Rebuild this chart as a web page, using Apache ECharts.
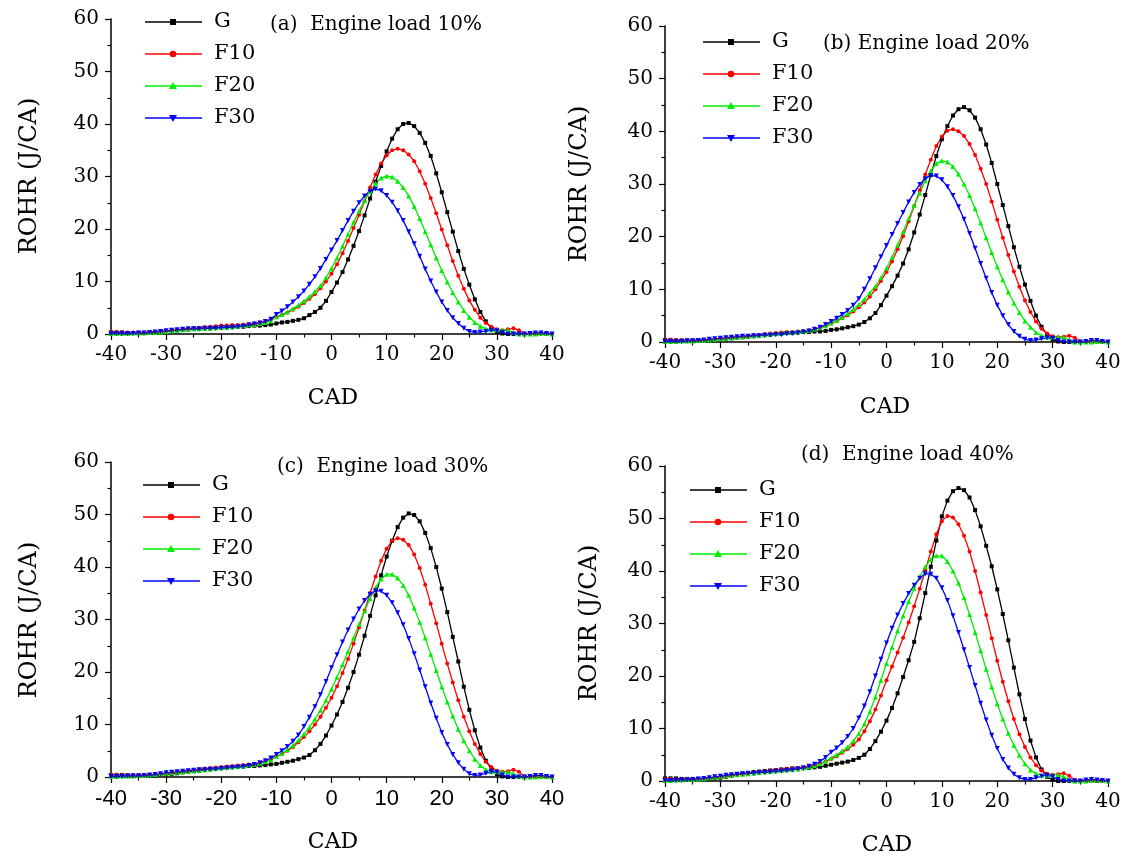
<!DOCTYPE html>
<html><head><meta charset="utf-8">
<script src="https://cdn.jsdelivr.net/npm/echarts@6/dist/echarts.min.js"></script>
<style>html,body{margin:0;padding:0;background:#fff}#c{width:1126px;height:858px}</style>
</head><body><div id="c"></div>
<script>
const CAD = [-40,-39,-38,-37,-36,-35,-34,-33,-32,-31,-30,-29,-28,-27,-26,-25,-24,-23,-22,-21,-20,-19,-18,-17,-16,-15,-14,-13,-12,-11,-10,-9,-8,-7,-6,-5,-4,-3,-2,-1,0,1,2,3,4,5,6,7,8,9,10,11,12,13,14,15,16,17,18,19,20,21,22,23,24,25,26,27,28,29,30,31,32,33,34,35,36,37,38,39,40];
const seriesNames = ['G','F10','F20','F30'];
const panelTitles = ['(a)  Engine load 10%','(b) Engine load 20%','(c)  Engine load 30%','(d)  Engine load 40%'];
const yTicks = [0,10,20,30,40,50,60];
const xTicks = [-40,-30,-20,-10,0,10,20,30,40];

// Panel (a) load 10%
const G_a = [0.3,0.3,0.3,0.2,0.2,0.2,0.2,0.3,0.3,0.4, 0.5,0.6,0.7,0.8,0.9,1.0,1.0,1.1,1.1,1.2, 1.2,1.3,1.3,1.4,1.4,1.5,1.6,1.6,1.7,1.8, 2.0,2.2,2.3,2.5,2.7,3.0,3.6,4.2,5.0,6.3, 8.0,9.8,11.8,14.2,16.8,19.6,22.6,25.8,29.0,32.0, 34.8,37.2,39.0,40.0,40.2,39.6,38.3,36.4,33.9,30.6, 27.0,23.2,19.5,15.8,12.4,9.4,6.6,4.2,2.4,1.1, 0.4,0.1,0,0,0,0,0,0,0,0,0];
const F10_a = [0.4,0.4,0.3,0.3,0.3,0.3,0.3,0.4,0.4,0.5, 0.6,0.7,0.8,0.9,1.0,1.1,1.2,1.3,1.4,1.5, 1.6,1.6,1.7,1.7,1.8,1.9,2.0,2.2,2.4,2.8, 3.2,3.6,4.1,4.6,5.2,5.9,6.7,7.6,8.7,10.0, 11.5,13.3,15.4,17.7,20.2,22.7,25.3,27.9,30.4,32.5, 34.0,35.0,35.3,35.0,34.2,32.9,31.0,28.6,25.9,23.0, 19.9,16.9,13.9,11.1,8.6,6.4,4.6,3.1,2.1,1.4, 0.9,0.7,0.9,1.1,0.7,0.1,0,0,0,0,0];
const F20_a = [0.1,0.1,0.1,0.1,0.2,0.2,0.2,0.3,0.3,0.4, 0.5,0.6,0.7,0.8,0.9,1.0,1.0,1.1,1.1,1.2, 1.3,1.3,1.4,1.5,1.6,1.7,1.8,2.0,2.2,2.5, 3.3,3.7,4.2,4.8,5.5,6.3,7.1,8.1,9.2,10.7, 12.5,14.5,16.7,19.0,21.3,23.4,25.4,27.2,28.7,29.7, 30.1,29.9,29.1,27.9,26.3,24.3,22.0,19.5,17.0,14.5, 12.1,9.9,7.9,6.1,4.5,3.2,2.2,1.5,1.0,0.8, 0.8,0.8,0.7,0.3,0,0,0,0,0.1,0.1,0];
const F30_a = [0.1,0.1,0.1,0.1,0.1,0.2,0.2,0.3,0.4,0.5, 0.6,0.7,0.8,0.9,1.0,1.0,1.0,1.1,1.1,1.1, 1.2,1.2,1.3,1.4,1.5,1.7,1.9,2.1,2.4,2.8, 3.7,4.4,5.2,6.1,7.1,8.2,9.5,10.9,12.5,14.2, 16.0,17.8,19.7,21.6,23.4,25.0,26.3,27.2,27.6,27.3, 26.4,25.1,23.5,21.6,19.5,17.2,14.8,12.4,10.1,8.0, 6.1,4.5,3.1,2.0,1.1,0.5,0.3,0.4,0.5,0.7, 0.6,0.3,0,0,0,0,0.1,0.2,0.2,0.1,0];

// Panel (b) load 20%
const G_b = [0.4,0.4,0.3,0.3,0.3,0.3,0.3,0.3,0.3,0.4, 0.5,0.6,0.7,0.8,0.9,1.0,1.1,1.2,1.3,1.4, 1.5,1.6,1.7,1.7,1.8,1.9,1.9,2.0,2.0,2.1, 2.3,2.4,2.6,2.8,3.0,3.3,3.8,4.5,5.5,7.0, 8.8,10.6,12.6,14.9,17.6,20.8,24.2,27.9,31.7,35.3, 38.5,41.0,43.0,44.2,44.6,44.0,42.6,40.4,37.5,34.0, 30.0,26.0,22.0,18.0,14.3,10.9,7.8,5.0,2.9,1.4, 0.5,0.1,0,0,0,0,0,0,0,0,0];
const F10_b = [0.4,0.4,0.4,0.3,0.3,0.3,0.3,0.4,0.4,0.5, 0.6,0.7,0.8,0.9,1.0,1.1,1.3,1.4,1.5,1.6, 1.7,1.8,1.9,1.9,2.0,2.1,2.2,2.4,2.7,3.0, 3.5,4.0,4.5,5.1,5.8,6.6,7.5,8.6,10.0,11.6, 13.3,15.3,17.6,20.1,22.9,25.8,28.8,31.8,34.6,37.2, 39.0,40.1,40.4,40.0,39.1,37.6,35.5,32.9,30.0,26.7, 23.2,19.8,16.5,13.4,10.5,7.9,5.7,3.9,2.5,1.6, 1.1,0.9,1.0,1.2,0.8,0.1,0,0,0,0,0];
const F20_b = [0.1,0.1,0.1,0.2,0.2,0.2,0.3,0.3,0.4,0.5, 0.6,0.7,0.8,0.9,1.0,1.1,1.2,1.3,1.4,1.5, 1.6,1.7,1.8,1.9,2.0,2.1,2.2,2.4,2.7,3.1, 3.6,4.1,4.7,5.4,6.2,7.1,8.1,9.3,10.6,12.2, 14.0,16.1,18.4,20.9,23.4,25.9,28.3,30.6,32.5,33.9, 34.4,34.2,33.3,31.9,30.0,27.8,25.3,22.6,19.8,17.0, 14.3,11.8,9.5,7.4,5.6,4.0,2.8,1.8,1.2,0.9, 0.9,1.0,0.9,0.4,0,0,0,0,0.1,0.1,0];
const F30_b = [0.1,0.1,0.1,0.1,0.2,0.2,0.3,0.4,0.5,0.6, 0.7,0.8,0.9,1.0,1.1,1.1,1.2,1.2,1.3,1.3, 1.4,1.4,1.5,1.6,1.7,1.9,2.1,2.4,2.8,3.3, 3.9,4.5,5.2,6.0,7.0,8.2,10.0,12.0,14.1,16.2, 18.3,20.4,22.5,24.6,26.6,28.4,29.9,31.0,31.6,31.5, 30.8,29.5,27.8,25.7,23.3,20.6,17.8,14.9,12.1,9.4, 7.0,5.0,3.3,2.0,1.1,0.5,0.3,0.4,0.6,0.8, 0.7,0.3,0,0,0,0,0.1,0.3,0.3,0.1,0];

// Panel (c) load 30%
const G_c = [0.4,0.4,0.4,0.3,0.3,0.3,0.3,0.3,0.3,0.4, 0.5,0.6,0.7,0.9,1.0,1.1,1.2,1.4,1.5,1.6, 1.7,1.8,1.9,2.0,2.0,2.1,2.1,2.2,2.3,2.4, 2.5,2.7,2.9,3.1,3.4,3.7,4.2,5.1,6.3,7.9, 9.8,11.9,14.3,17.0,20.0,23.3,26.9,30.7,34.6,38.4, 42.0,45.0,47.6,49.4,50.2,49.9,48.7,46.5,43.6,40.0, 35.9,31.4,26.7,22.0,17.2,12.8,8.9,5.6,3.1,1.5, 0.5,0.1,0,0,0,0,0,0,0,0,0];
const F10_c = [0.4,0.4,0.4,0.3,0.3,0.3,0.3,0.4,0.4,0.5, 0.6,0.7,0.9,1.0,1.2,1.3,1.5,1.6,1.7,1.8, 1.9,2.0,2.1,2.2,2.3,2.4,2.5,2.7,3.0,3.4, 3.9,4.4,5.0,5.7,6.6,7.6,8.7,10.0,11.5,13.2, 15.1,17.3,19.8,22.5,25.4,28.5,31.7,35.0,38.2,41.2, 43.5,45.0,45.5,45.2,44.2,42.4,39.8,36.6,33.0,29.3, 25.4,21.6,18.0,14.6,11.5,8.7,6.3,4.4,2.9,1.9, 1.2,1.0,1.1,1.4,1.0,0.1,0,0,0,0,0];
const F20_c = [0.1,0.1,0.2,0.2,0.2,0.3,0.3,0.4,0.5,0.6, 0.7,0.8,0.9,1.0,1.1,1.2,1.3,1.4,1.5,1.6, 1.7,1.8,1.9,2.0,2.1,2.3,2.4,2.6,2.9,3.3, 3.9,4.5,5.2,6.0,7.0,8.2,9.5,11.0,12.7,14.6, 16.7,19.0,21.4,23.9,26.5,29.1,31.6,34.0,36.1,37.7, 38.6,38.6,37.9,36.5,34.6,32.2,29.5,26.5,23.4,20.3, 17.2,14.3,11.6,9.1,6.9,5.0,3.4,2.2,1.4,1.0, 1.0,1.0,1.0,0.6,0.1,0,0,0,0.1,0.1,0];
const F30_c = [0.1,0.1,0.1,0.2,0.2,0.2,0.3,0.4,0.5,0.6, 0.8,0.9,1.0,1.1,1.2,1.3,1.4,1.4,1.5,1.5, 1.6,1.7,1.8,1.9,2.0,2.2,2.4,2.7,3.1,3.6, 4.3,5.0,5.8,6.8,8.0,9.6,11.4,13.4,15.7,18.2, 20.8,23.3,25.7,28.0,30.1,32.0,33.6,34.8,35.5,35.4, 34.6,33.2,31.3,29.0,26.4,23.5,20.4,17.2,14.1,11.2, 8.5,6.2,4.3,2.7,1.5,0.6,0.3,0.4,0.7,1.0, 0.9,0.4,0,0,0,0,0.1,0.3,0.3,0.1,0];

// Panel (d) load 40%
const G_d = [0.5,0.5,0.5,0.4,0.4,0.4,0.4,0.4,0.4,0.5, 0.6,0.8,1.0,1.2,1.4,1.5,1.7,1.8,1.9,2.0, 2.1,2.2,2.3,2.4,2.4,2.5,2.5,2.6,2.7,2.9, 3.1,3.3,3.5,3.7,4.0,4.4,5.0,6.1,7.6,9.4, 11.5,13.9,16.7,19.8,23.0,26.5,31.0,35.8,40.8,45.8, 50.4,53.4,55.2,55.8,55.4,54.0,51.6,48.5,44.8,40.9, 36.5,31.8,26.8,21.6,16.5,11.8,7.7,4.5,2.2,0.8, 0.2,0,0,0,0,0,0,0,0,0,0];
const F10_d = [0.4,0.4,0.3,0.3,0.3,0.4,0.4,0.5,0.5,0.6, 0.7,0.8,1.0,1.1,1.3,1.4,1.6,1.7,1.8,2.0, 2.1,2.2,2.3,2.4,2.5,2.6,2.8,3.0,3.3,3.7, 4.2,4.7,5.4,6.1,6.9,7.9,9.5,11.4,13.6,16.3, 19.2,21.8,24.5,27.3,30.2,33.3,36.6,40.1,43.7,47.0, 49.5,50.5,50.2,48.9,46.7,43.7,40.0,35.9,31.6,27.2, 22.9,18.9,15.2,11.8,8.9,6.5,4.5,3.0,2.0,1.4, 1.2,1.3,1.5,1.0,0.2,0,0,0,0,0,0];
const F20_d = [0.1,0.1,0.2,0.2,0.3,0.3,0.4,0.5,0.6,0.7, 0.8,1.0,1.1,1.2,1.3,1.4,1.5,1.6,1.7,1.8, 1.9,2.0,2.1,2.2,2.3,2.5,2.7,2.9,3.3,3.8, 4.4,5.0,5.7,6.5,7.6,9.0,10.9,13.2,16.0,19.2, 22.4,25.5,28.6,31.5,34.2,36.7,38.9,40.8,42.2,42.9, 42.9,41.8,40.0,37.7,34.9,31.7,28.3,24.8,21.3,17.9, 14.7,11.8,9.1,6.8,4.9,3.3,2.1,1.4,1.1,1.1, 1.2,1.2,0.8,0.2,0,0,0,0.1,0.2,0.1,0];
const F30_d = [0.1,0.1,0.1,0.2,0.2,0.3,0.4,0.5,0.6,0.8, 0.9,1.1,1.2,1.3,1.4,1.5,1.5,1.6,1.6,1.7, 1.8,1.9,2.0,2.1,2.3,2.5,2.8,3.2,3.7,4.5, 5.5,6.3,7.3,8.5,10.0,12.0,14.3,17.0,20.0,23.2, 26.3,29.1,31.6,33.8,35.7,37.3,38.6,39.5,39.4,38.6, 36.8,34.4,31.5,28.3,25.0,21.6,18.2,14.8,11.6,8.7, 6.2,4.1,2.5,1.3,0.6,0.3,0.3,0.6,0.9,1.1, 0.8,0.3,0,0,0,0,0.2,0.3,0.2,0.1,0];

const panels = [
  [G_a, F10_a, F20_a, F30_a],
  [G_b, F10_b, F20_b, F30_b],
  [G_c, F10_c, F20_c, F30_c],
  [G_d, F10_d, F20_d, F30_d]
];

const SERIF = '"DejaVu Serif","Liberation Serif",serif';
const SANS = '"Liberation Sans",Arial,sans-serif';
const colors = ['#000000','#ff0000','#00ee00','#0000ff'];
const symbols = ['rect','circle','triangle','triangle'];
const rotates = [0,0,0,180];
const symSizes = [4,4,5,5];

const grids = [
  {left:111, top:19, width:441, height:315},
  {left:665, top:26, width:443, height:316},
  {left:111, top:462, width:441, height:315},
  {left:665, top:466, width:443, height:315}
];
const xLabelFont = [SERIF, SERIF, SANS, SERIF];
const xLabelSize = [20, 20, 22, 20];
const legendPos = [
  {left:145, top:12},
  {left:703, top:32},
  {left:143, top:475},
  {left:690, top:480}
];
const titlePos = [
  {left:265, top:10},
  {left:818, top:29},
  {left:272, top:452},
  {left:796, top:440}
];
const yNamePos = [[30,176],[580,184],[30,620],[590,623]];
const xNamePos = [[333,398],[885,407],[333,842],[887,845]];

const xAxis = [], yAxis = [], series = [], title = [], graphic = [];
grids.forEach((g, i) => {
  xAxis.push({
    type:'value', gridIndex:i, min:-40, max:40, interval:10,
    axisLine:{onZero:false, lineStyle:{color:'#000', width:1.5}},
    axisTick:{show:true, inside:false, length:6, lineStyle:{color:'#000', width:1.2}},
    minorTick:{show:true, splitNumber:2, length:3.5, lineStyle:{color:'#000', width:1.2}},
    splitLine:{show:false},
    axisLabel:{color:'#000', fontFamily:xLabelFont[i], fontSize:xLabelSize[i], margin:11,
      formatter: v => xTicks.includes(v) ? String(v) : ''}
  });
  yAxis.push({
    type:'value', gridIndex:i, min:0, max:60, interval:10,
    axisLine:{show:true, onZero:false, lineStyle:{color:'#000', width:1.5}},
    axisTick:{show:true, inside:false, length:6, lineStyle:{color:'#000', width:1.2}},
    minorTick:{show:true, splitNumber:2, length:3.5, lineStyle:{color:'#000', width:1.2}},
    splitLine:{show:false},
    axisLabel:{color:'#000', fontFamily:SERIF, fontSize:20, margin:12,
      formatter: v => yTicks.includes(v) ? String(v) : ''}
  });
  panels[i].forEach((arr, k) => {
    series.push({
      type:'line', name:seriesNames[k], xAxisIndex:i, yAxisIndex:i,
      data: CAD.map((x, j) => [x, arr[j]]),
      symbol:symbols[k], symbolRotate:rotates[k], symbolSize:symSizes[k],
      showSymbol:true, showAllSymbol:true,
      color:colors[k], itemStyle:{color:colors[k]},
      lineStyle:{color:colors[k], width:1.3}, smooth:false,
      animation:false, silent:true
    });
  });
  title.push({
    text:panelTitles[i], left:titlePos[i].left, top:titlePos[i].top,
    textStyle:{fontFamily:SERIF, fontSize:20, fontWeight:'normal', color:'#000'}
  });
  graphic.push({
    type:'text', x:yNamePos[i][0], y:yNamePos[i][1], rotation:Math.PI/2,
    style:{text:'ROHR (J/CA)', fontFamily:SERIF, fontSize:24, fill:'#000', align:'center', verticalAlign:'middle'}
  });
  graphic.push({
    type:'text', x:xNamePos[i][0], y:xNamePos[i][1],
    style:{text:'CAD', fontFamily:SERIF, fontSize:22, fill:'#000', align:'center', verticalAlign:'middle'}
  });
  seriesNames.forEach((n,k) => {
    const lx = legendPos[i].left, ly = legendPos[i].top + 10 + k*32;
    graphic.push({type:'line', shape:{x1:lx, y1:ly, x2:lx+57, y2:ly},
      style:{stroke:colors[k], lineWidth:1.4}});
    graphic.push({type:'text', x:lx+69, y:ly, style:{text:n, fontFamily:SERIF, fontSize:21, fill:'#000', verticalAlign:'middle'}});
    const cx = lx + 28, cy = ly;
    if (k===0) graphic.push({type:'rect', shape:{x:cx-3, y:cy-3, width:6, height:6}, style:{fill:colors[k]}});
    else if (k===1) graphic.push({type:'circle', shape:{cx:cx, cy:cy, r:3.3}, style:{fill:colors[k]}});
    else if (k===2) graphic.push({type:'polygon', shape:{points:[[cx,cy-4],[cx-4,cy+3],[cx+4,cy+3]]}, style:{fill:colors[k]}});
    else graphic.push({type:'polygon', shape:{points:[[cx,cy+4],[cx-4,cy-3],[cx+4,cy-3]]}, style:{fill:colors[k]}});
  });
});

const chart = echarts.init(document.getElementById('c'), null, {renderer:'canvas'});
chart.setOption({
  animation:false, backgroundColor:'#fff',
  grid: grids.map(g => Object.assign({containLabel:false}, g)),
  xAxis, yAxis, series, title, graphic
});
</script>
</body></html>
